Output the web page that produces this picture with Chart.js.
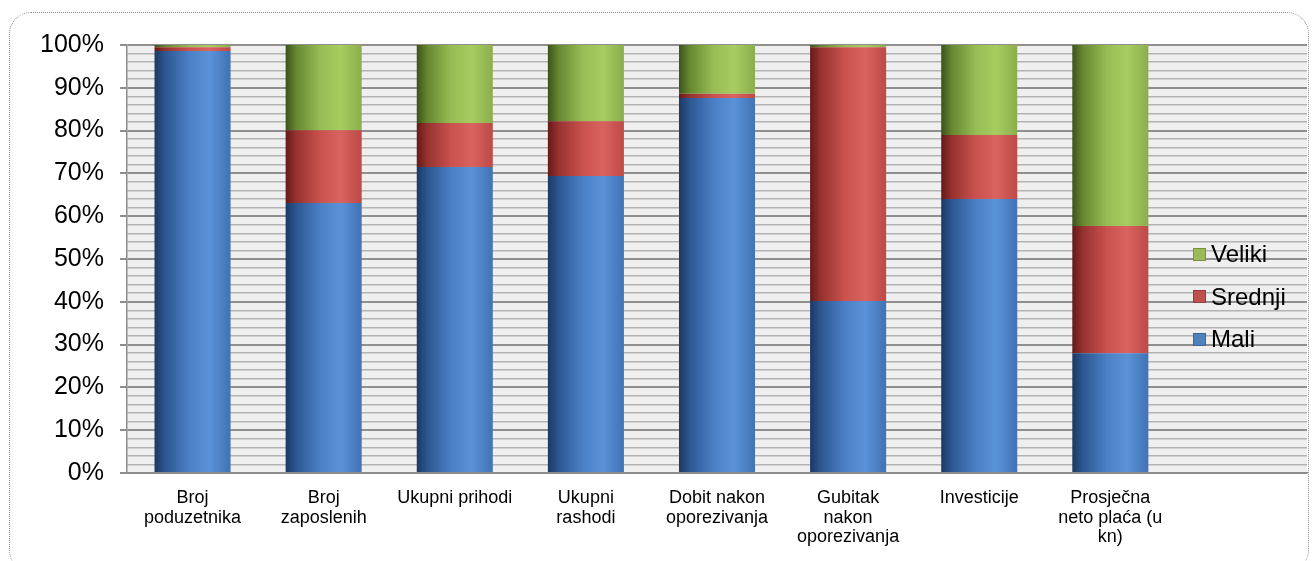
<!DOCTYPE html>
<html lang="hr">
<head>
    <meta charset="UTF-8">
    <title>Struktura po veličini poduzetnika</title>
    <script src="https://cdn.jsdelivr.net/npm/chart.js"></script>
    <style>
        body {
            margin: 0;
            background: #ffffff;
            font-family: "Liberation Sans", Arial, sans-serif;
        }
        /* dotted frame round the chart */
        .frame {
            position: absolute;
            left: 9px;
            top: 12px;
            width: 1300px;
            height: 560px;
            border: 1px dotted #8a8a8a;
            border-radius: 22px;
            box-sizing: border-box;
        }
        .wrap {
            position: absolute;
            left: 0;
            top: 0;
            width: 1314px;
            height: 561px;
        }
        #legend {
            position: absolute;
            left: 1193px;
            top: 233px;
            font-size: 24px;
            color: #000;
        }
        #legend div {
            height: 42.5px;
            display: flex;
            align-items: center;
        }
        #legend span.box {
            display: inline-block;
            width: 13px;
            height: 13px;
            margin-right: 5px;
            box-sizing: border-box;
        }
    </style>
</head>
<body>
    <div class="frame"></div>
    <div class="wrap"><canvas id="chart" width="1314" height="561"></canvas></div>
    <div id="legend"></div>

    <script>
        // categories (last slot is empty, as in the original sheet)
        const categories = [
            ['Broj', 'poduzetnika'],
            ['Broj', 'zaposlenih'],
            'Ukupni prihodi',
            ['Ukupni', 'rashodi'],
            ['Dobit nakon', 'oporezivanja'],
            ['Gubitak', 'nakon', 'oporezivanja'],
            'Investicije',
            ['Prosječna', 'neto plaća (u', 'kn)'],
            ''
        ];
        // shares in %
        const mali    = [98.6, 63.1, 71.5, 69.4, 87.6, 40.2, 64.0, 28.0];
        const srednji = [0.9, 17.0, 10.3, 12.8, 1.0, 59.3, 15.0, 29.7];
        const veliki  = [0.5, 19.9, 18.2, 17.8, 11.4, 0.5, 21.0, 42.3];

        const BAR_PCT = 0.58;

        // cylinder-like shading, dark on the left edge
        const shades = {
            blue:  ['#1b3961', '#2c5791', '#4a7fc5', '#5a92d8', '#4173b5'],
            red:   ['#641a18', '#96322f', '#c9514e', '#d9635f', '#bd4a47'],
            green: ['#3a531a', '#678731', '#96bc54', '#a7cd60', '#8cae4d']
        };

        function barFill(name, flat) {
            return function (ctx) {
                const chart = ctx.chart;
                const x = chart.scales.x;
                if (!chart.chartArea || !x) return flat;
                const c = x.getPixelForValue(ctx.dataIndex);
                const half = (x.getPixelForValue(1) - x.getPixelForValue(0)) * BAR_PCT / 2;
                if (!isFinite(c) || !isFinite(half)) return flat;
                const g = chart.ctx.createLinearGradient(c - half, 0, c + half, 0);
                const s = shades[name];
                g.addColorStop(0, s[0]);
                g.addColorStop(0.14, s[1]);
                g.addColorStop(0.45, s[2]);
                g.addColorStop(0.72, s[3]);
                g.addColorStop(1, s[4]);
                return g;
            };
        }

        // light grey plot background
        const plotBg = {
            id: 'plotBg',
            beforeDraw(chart) {
                const a = chart.chartArea, c = chart.ctx;
                c.save();
                c.fillStyle = '#efefef';
                c.fillRect(a.left, a.top, a.right - a.left, a.bottom - a.top);
                c.restore();
            }
        };

        const chart = new Chart(document.getElementById('chart'), {
            type: 'bar',
            data: {
                labels: categories,
                datasets: [
                    { label: 'Mali', data: mali, backgroundColor: barFill('blue', '#4f81bd'), legendColor: '#4f81bd', legendBorder: '#3a659b' },
                    { label: 'Srednji', data: srednji, backgroundColor: barFill('red', '#c0504d'), legendColor: '#c0504d', legendBorder: '#973c3a' },
                    { label: 'Veliki', data: veliki, backgroundColor: barFill('green', '#9bbb59'), legendColor: '#9bbb59', legendBorder: '#77933f' }
                ]
            },
            options: {
                responsive: false,
                animation: false,
                layout: { padding: { left: 0, right: 7, top: 45, bottom: 0 } },
                datasets: { bar: { barPercentage: BAR_PCT, categoryPercentage: 1, borderWidth: 0 } },
                plugins: { legend: { display: false }, tooltip: { enabled: false } },
                scales: {
                    x: {
                        stacked: true,
                        grid: { display: false, drawTicks: false },
                        border: { display: true, color: '#8c8c8c', width: 1.5 },
                        ticks: {
                            color: '#000',
                            maxRotation: 0,
                            autoSkip: false,
                            padding: 15,
                            font: { family: '"Liberation Sans", Arial, sans-serif', size: 18, lineHeight: 1.1 }
                        },
                        afterFit(s) { s.height = 88; }
                    },
                    y: {
                        stacked: true,
                        min: 0,
                        max: 100,
                        grid: {
                            color: c => (c.tick && c.tick.value % 10 === 0) ? '#8f8f8f' : '#b3b3b3',
                            lineWidth: c => (c.tick && c.tick.value % 10 === 0) ? 2 : 1.6,
                            tickColor: c => (c.tick && c.tick.value % 10 === 0) ? '#8c8c8c' : 'rgba(0,0,0,0)',
                            tickLength: 7
                        },
                        border: { color: '#8c8c8c', width: 1.5 },
                        ticks: {
                            stepSize: 2,
                            autoSkip: false,
                            color: '#000',
                            padding: 16,
                            font: { family: '"Liberation Sans", Arial, sans-serif', size: 25 },
                            callback: v => (v % 10 === 0) ? v + '%' : ''
                        },
                        afterFit(s) { s.width = 127; }
                    }
                }
            },
            plugins: [plotBg]
        });

        // legend, top to bottom in reverse stacking order
        const legend = document.getElementById('legend');
        chart.data.datasets.slice().reverse().forEach(ds => {
            const row = document.createElement('div');
            row.innerHTML = '<span class="box" style="background:' + ds.legendColor +
                ';border:1px solid ' + ds.legendBorder + '"></span>' + ds.label;
            legend.appendChild(row);
        });
    </script>
</body>
</html>
